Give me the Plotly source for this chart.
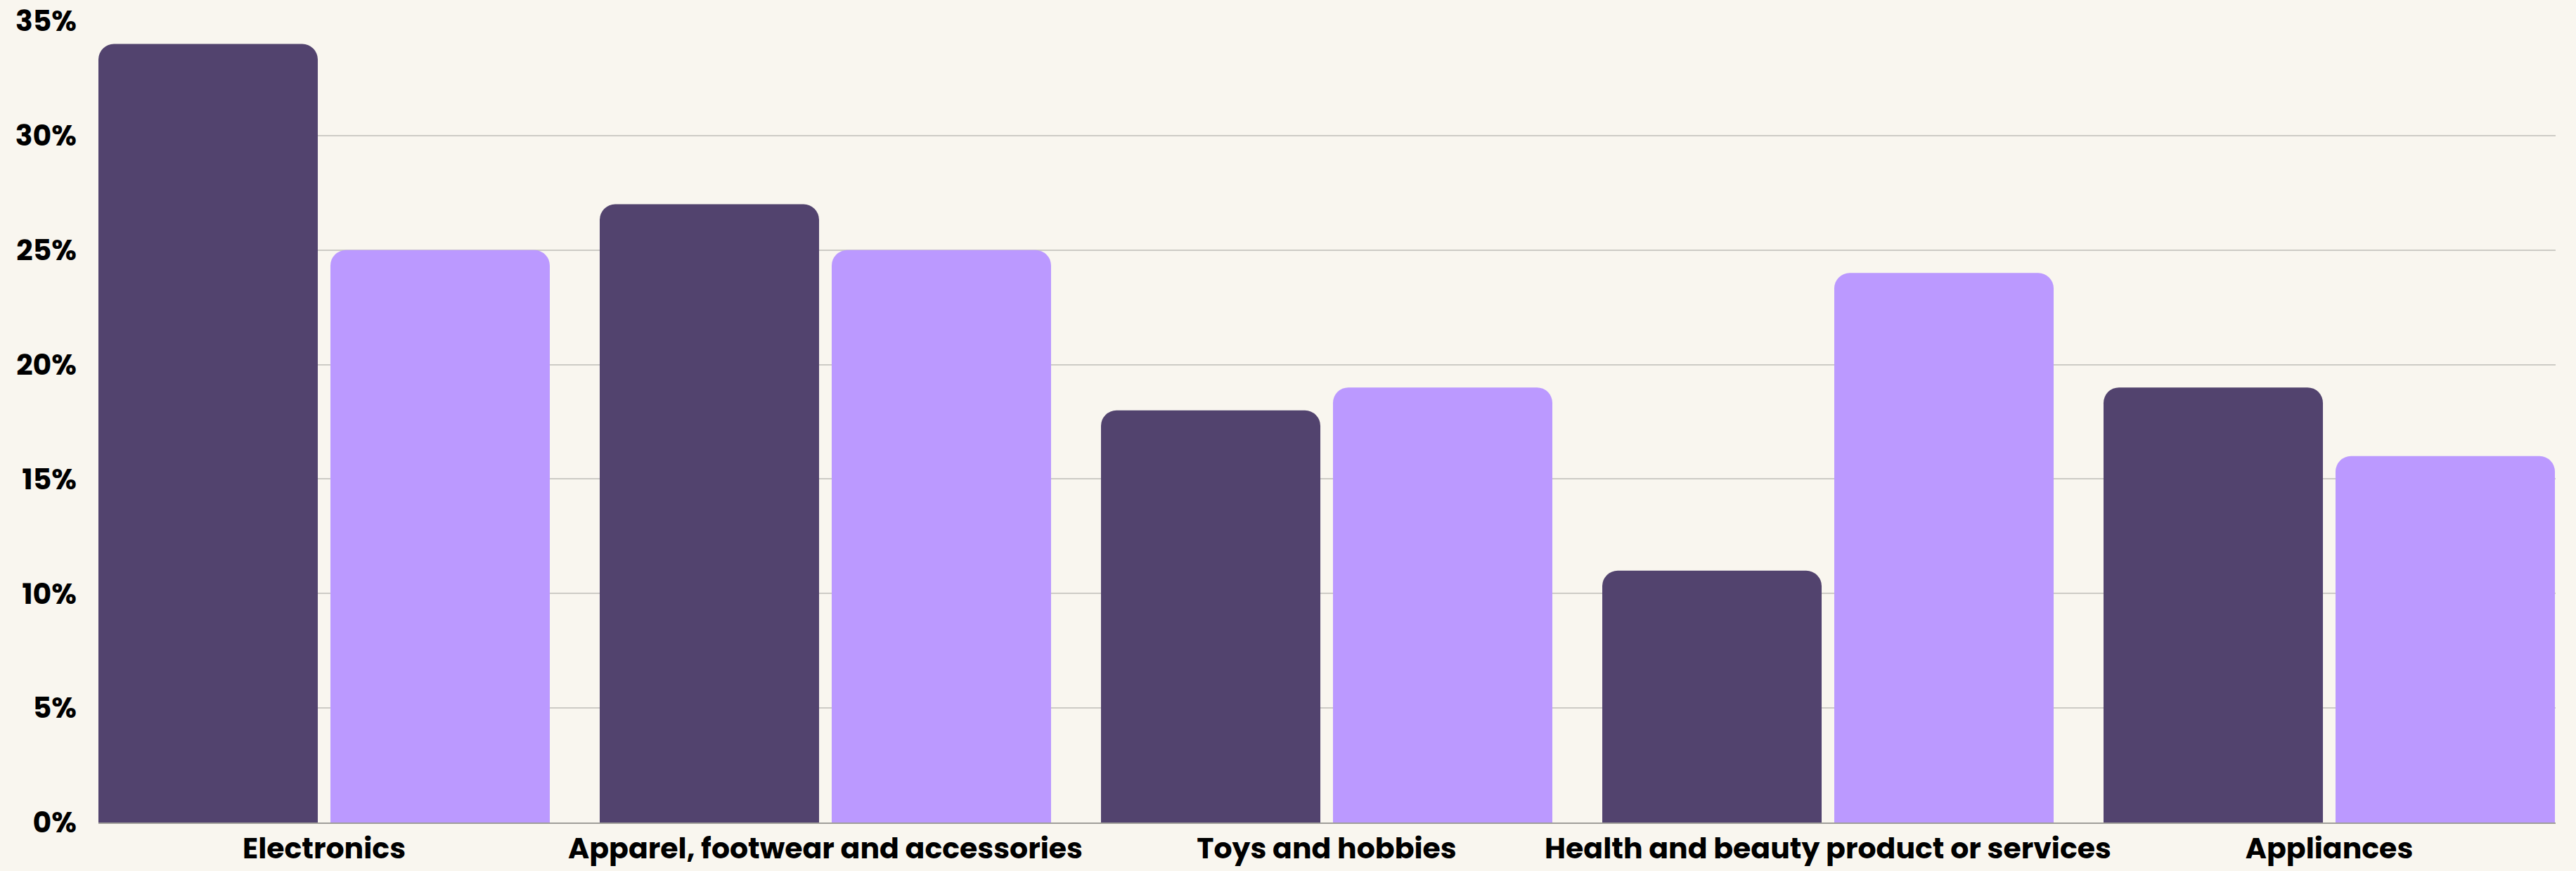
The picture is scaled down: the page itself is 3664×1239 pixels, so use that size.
import plotly.graph_objects as go

categories = ["Electronics", "Apparel, footwear and accessories", "Toys and hobbies",
              "Health and beauty product or services", "Appliances"]
series_a = [34, 27, 18, 11, 19]
series_b = [25, 25, 19, 24, 16]
y_tickvals = [0, 5, 10, 15, 20, 25, 30, 35]
y_ticktext = ["0%", "5%", "10%", "15%", "20%", "25%", "30%", "35%"]

DARK = "#52436E"
LIGHT = "#BB99FF"
BG = "#F9F6EF"
FONT = "Poppins, Inter, Roboto, sans-serif"

bar_w = 0.4376
fig = go.Figure()
fig.add_trace(go.Bar(x=categories, y=series_a, marker=dict(color=DARK, line=dict(width=0), cornerradius=22),
                     width=bar_w, offset=-0.4502, showlegend=False, hoverinfo="skip"))
fig.add_trace(go.Bar(x=categories, y=series_b, marker=dict(color=LIGHT, line=dict(width=0), cornerradius=22),
                     width=bar_w, offset=0.0126, showlegend=False, hoverinfo="skip"))

fig.update_layout(
    width=3664, height=1239,
    margin=dict(l=140, r=29, t=30, b=69, pad=0),
    paper_bgcolor=BG, plot_bgcolor=BG,
    barmode="group",
    font=dict(family=FONT, color="#000000"),
    xaxis=dict(
        type="category", range=[-0.4502, 4.4516], automargin=False,
        showgrid=False, zeroline=False,
        showline=True, linecolor="#A09E99", linewidth=2,
        ticks="", ticklabelstandoff=0,
        tickfont=dict(family=FONT, size=41, weight=700, color="#000000"),
    ),
    yaxis=dict(
        range=[0, 35], tickvals=y_tickvals, ticktext=y_ticktext, automargin=False,
        showgrid=True, gridcolor="#CDCBC5", gridwidth=2,
        zeroline=False, showline=False, ticks="", ticklabelstandoff=30,
        tickfont=dict(family=FONT, size=41, weight=700, color="#000000"),
    ),
)

fig.write_html("out.html")
